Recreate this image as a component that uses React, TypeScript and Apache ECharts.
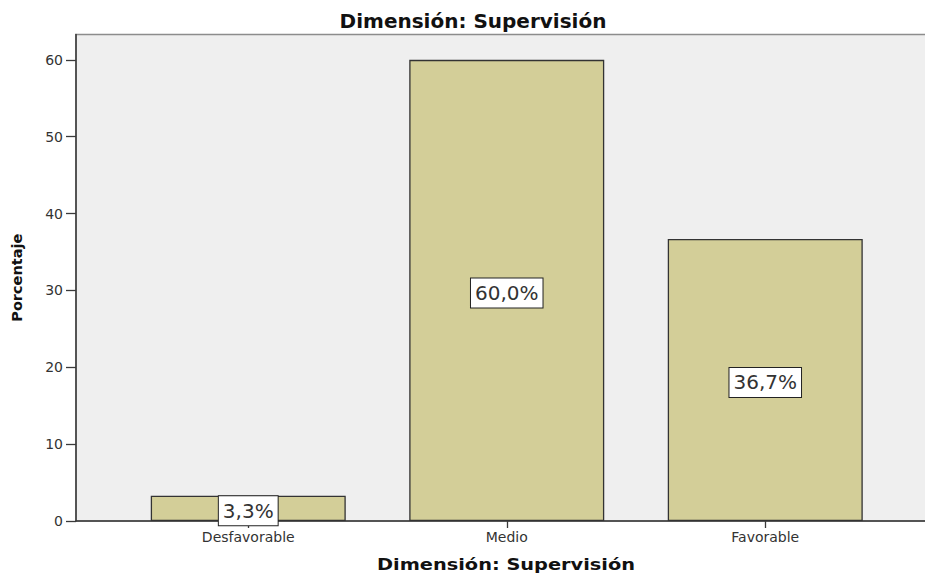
import React, { useEffect, useRef } from "react";
import * as echarts from "echarts";

const titleText = "Dimensión: Supervisión";
const xAxisTitle = "Dimensión: Supervisión";
const yAxisTitle = "Porcentaje";
const categories = ["Desfavorable", "Medio", "Favorable"];
const percentages = [3.3, 60.0, 36.7];
const yMin = 0;
const yMax = 63.3;
const yInterval = 10;

const fmt = (v: number) => v.toFixed(1).replace(".", ",") + "%";

export default function App() {
  const ref = useRef<HTMLDivElement>(null);
  useEffect(() => {
    if (!ref.current) return;
    const chart = echarts.init(ref.current, undefined, { renderer: "svg" });
    const font = "DejaVu Sans";
    chart.setOption({
      animation: false,
      backgroundColor: "#ffffff",
      title: {
        text: titleText,
        left: 468,
        top: 6,
        textAlign: "center",
        textStyle: { fontFamily: font, fontWeight: "bold", fontSize: 20, color: "#111" },
      },
      grid: [
        {
          left: 76,
          right: -12,
          top: 34.5,
          bottom: 54,
          outerBoundsMode: "none",
          show: true,
          backgroundColor: "#efefef",
          borderColor: "#8c8c8c",
          borderWidth: 1.5,
        },
        { left: 119, right: 30.5, top: 34.5, bottom: 54, outerBoundsMode: "none" },
      ],
      xAxis: [
        {
          gridIndex: 0,
          type: "value",
          min: 0,
          max: 1,
          axisLine: { show: true, lineStyle: { color: "#3a3a3a", width: 1.5 } },
          axisTick: { show: false },
          axisLabel: { show: false },
          splitLine: { show: false },
        },
        {
          gridIndex: 1,
          type: "category",
          data: categories,
          axisLine: { show: false },
          axisTick: { show: true, alignWithLabel: true, length: 7, lineStyle: { color: "#3a3a3a", width: 1.3 } },
          axisLabel: { fontFamily: font, fontSize: 14, color: "#333", margin: 9 },
        },
      ],
      yAxis: [
        {
          gridIndex: 0,
          type: "value",
          min: yMin,
          max: yMax,
          interval: yInterval,
          name: yAxisTitle,
          nameLocation: "middle",
          nameRotate: 90,
          nameGap: 52,
          nameTextStyle: { fontFamily: font, fontWeight: "bold", fontSize: 14.5, color: "#111" },
          axisLine: { show: true, lineStyle: { color: "#3a3a3a", width: 1.5 } },
          axisTick: { show: true, length: 10, lineStyle: { color: "#3a3a3a", width: 1.3 } },
          axisLabel: {
            fontFamily: font,
            fontSize: 14,
            color: "#333",
            margin: 13,
            showMaxLabel: false,
            formatter: (v: number) => (v % 10 === 0 ? String(v) : ""),
          },
          splitLine: { show: false },
        },
        {
          gridIndex: 1,
          type: "value",
          min: yMin,
          max: yMax,
          show: false,
        },
      ],
      series: [
        {
          type: "bar",
          xAxisIndex: 1,
          yAxisIndex: 1,
          data: percentages,
          barWidth: 195,
          itemStyle: { color: "#d3ce98", borderColor: "#333", borderWidth: 1.3 },
          label: {
            show: true,
            position: "inside",
            offset: [0, 2.5],
            formatter: (p: any) => fmt(p.value),
            fontFamily: font,
            fontSize: 20,
            color: "#333",
            backgroundColor: "#ffffff",
            borderColor: "#222",
            borderWidth: 1,
            padding: [4, 4, 3, 4],
            lineHeight: 22,
          },
        },
      ],
      graphic: [
        {
          type: "text",
          x: 506,
          y: 565,
          scaleX: 1.29,
          style: {
            text: xAxisTitle,
            x: 0,
            y: 0,
            align: "center",
            verticalAlign: "middle",
            fontFamily: font,
            fontWeight: "bold",
            fontSize: 15,
            fill: "#111",
          },
        },
      ],
    });
    return () => chart.dispose();
  }, []);
  return <div ref={ref} style={{ position: "fixed", left: 0, top: 0, width: 925, height: 575 }} />;
}
